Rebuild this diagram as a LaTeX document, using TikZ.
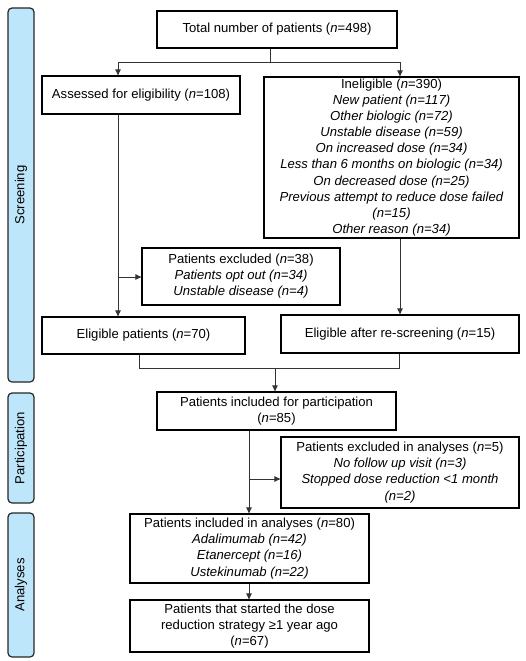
\documentclass[tikz,border=0pt]{standalone}
\usepackage{fontspec}
\setmainfont{Liberation Sans}
\usetikzlibrary{arrows.meta}
\definecolor{barblue}{HTML}{BDE6FA}
\begin{document}
\begin{tikzpicture}[x=1pt,y=-1pt,
  box/.style={draw=black,line width=1.3pt,fill=white,align=center,inner sep=0pt,
    font=\fontsize{13.1}{16.1}\selectfont},
  bar/.style={draw=black!85,line width=1.2pt,fill=barblue,rounded corners=4pt},
  barlabel/.style={rotate=90,font=\fontsize{13.1}{16}\selectfont},
  conn/.style={draw=black!80,line width=0.9pt},
  arr/.style={conn,-{Triangle[length=6pt,width=5.5pt]}}]
\useasboundingbox (0,0) rectangle (526,661);
% side bars
\draw[bar] (8,8) rectangle (34,382);
\draw[bar] (8,393) rectangle (34,503);
\draw[bar] (8,513) rectangle (34,657);
\node[barlabel] (lscr) at (21,195) {Screening};
\node[barlabel] (lpar) at (21,448) {Participation};
\node[barlabel] (lana) at (21,585) {Analyses};
% boxes
\node[box,minimum width=240pt,minimum height=37pt] (total) at (277,29.5)
  {Total number of patients (\textit{n}=498)};
\node[box,minimum width=198pt,minimum height=38pt] (assessed) at (141,95)
  {Assessed for eligibility (\textit{n}=108)};
\node[box,minimum width=255pt,minimum height=161pt] (inel) at (391.5,157.5)
  {Ineligible (\textit{n}=390)\\
   \textit{New patient (n=117)}\\
   \textit{Other biologic (n=72)}\\
   \textit{Unstable disease (n=59)}\\
   \textit{On increased dose (n=34)}\\
   \textit{Less than 6 months on biologic (n=34)}\\
   \textit{On decreased dose (n=25)}\\
   \textit{Previous attempt to reduce dose failed}\\
   \textit{(n=15)}\\
   \textit{Other reason (n=34)}};
\node[box,minimum width=198pt,minimum height=57pt] (excl) at (241,276.5)
  {Patients excluded (\textit{n}=38)\\
   \textit{Patients opt out (n=34)}\\
   \textit{Unstable disease (n=4)}};
\node[box,minimum width=203pt,minimum height=37pt] (elig) at (143.5,335.5)
  {Eligible patients (\textit{n}=70)};
\node[box,minimum width=238pt,minimum height=38pt] (resc) at (400,334)
  {Eligible after re-screening (\textit{n}=15)};
\node[box,minimum width=239pt,minimum height=38pt] (incp) at (276.5,411)
  {Patients included for participation\\(\textit{n}=85)};
\node[box,minimum width=238pt,minimum height=71pt] (exan) at (400,472.5)
  {Patients excluded in analyses (\textit{n}=5)\\
   \textit{No follow up visit (n=3)}\\
   \textit{Stopped dose reduction <1 month}\\
   \textit{(n=2)}};
\node[box,minimum width=239pt,minimum height=69pt] (inan) at (249.5,548.5)
  {Patients included in analyses (\textit{n}=80)\\
   \textit{Adalimumab (n=42)}\\
   \textit{Etanercept (n=16)}\\
   \textit{Ustekinumab (n=22)}};
\node[box,minimum width=239pt,minimum height=52pt] (final) at (249.5,626)
  {Patients that started the dose\\
   reduction strategy ≥1 year ago\\
   (\textit{n}=67)};
% junction coordinates
\coordinate (j1) at (270,62);
\coordinate (jl) at (118,62);
\coordinate (jr) at (400,62);
\coordinate (jx) at (118,277);
\coordinate (m1) at (139,368);
\coordinate (m2) at (399,368);
\coordinate (mm) at (275,368);
\coordinate (jp) at (249,479);
% connectors
\draw[conn] (total.south -| j1) -- (j1);
\draw[conn] (jl) -- (jr);
\draw[arr] (jl) -- (jl |- assessed.north);
\draw[arr] (jr) -- (jr |- inel.north);
\draw[arr] (assessed.south -| jl) -- (elig.north -| jl);
\draw[arr] (jx) -- (excl.west |- jx);
\draw[arr] (inel.south -| jr) -- (resc.north -| jr);
\draw[conn] (elig.south -| m1) -- (m1) -- (m2) -- (resc.south -| m2);
\draw[arr] (mm) -- (incp.north -| mm);
\draw[arr] (incp.south -| jp) -- (inan.north -| jp);
\draw[arr] (jp) -- (exan.west |- jp);
\draw[arr] (inan.south -| jp) -- (final.north -| jp);
\end{tikzpicture}
\end{document}
